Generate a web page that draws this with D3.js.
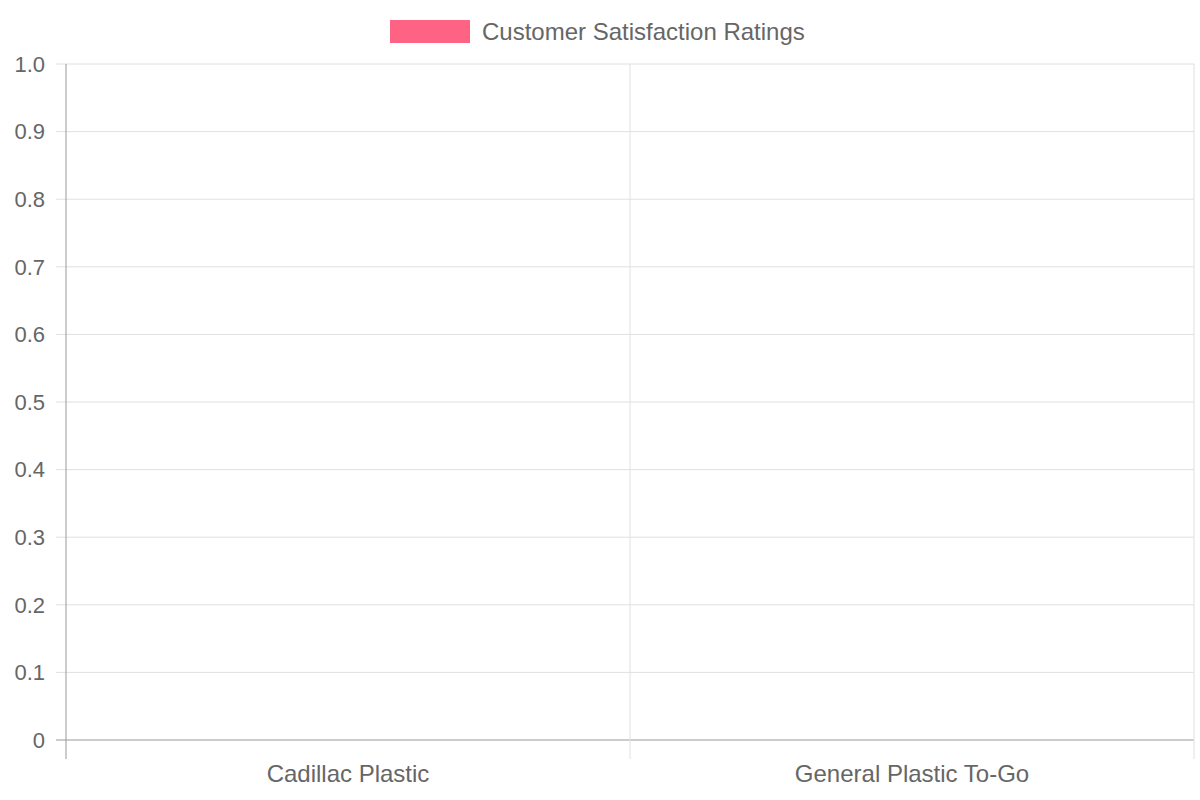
<!DOCTYPE html>
<html>
<head>
<meta charset="utf-8" />
<script src="https://d3js.org/d3.v7.min.js"></script>
<style>
  body { margin: 0; background: #fff; }
  text { font-family: "Liberation Sans", Arial, sans-serif; fill: #666; }
</style>
</head>
<body>
<svg id="chart" width="1200" height="800"></svg>
<script>
// data
var categories = ["Cadillac Plastic", "General Plastic To-Go"];
var ratings = [0, 0];
var seriesName = "Customer Satisfaction Ratings";
var yTicks = [0, 0.1, 0.2, 0.3, 0.4, 0.5, 0.6, 0.7, 0.8, 0.9, 1.0];

var svg = d3.select("#chart");
var plotLeft = 66, plotRight = 1194, plotTop = 64, plotBottom = 740;

var x = d3.scaleBand().domain(categories).range([plotLeft, plotRight]);
var y = d3.scaleLinear().domain([0, 1]).range([plotBottom, plotTop]);

// horizontal grid
svg.selectAll(".hgrid").data(yTicks).enter().append("line")
  .attr("x1", plotLeft - 10).attr("x2", plotRight)
  .attr("y1", d => y(d)).attr("y2", d => y(d))
  .attr("stroke", d => d === 0 ? "#999" : "#e0e0e0").attr("stroke-width", 1);

// vertical grid (category boundaries)
var bounds = categories.map(c => x(c)).concat([plotRight]);
svg.selectAll(".vgrid").data(bounds).enter().append("line")
  .attr("x1", d => d).attr("x2", d => d)
  .attr("y1", plotTop).attr("y2", plotBottom + 19)
  .attr("stroke", (d, i) => i === 0 ? "#999" : "#e0e0e0").attr("stroke-width", 1);

// y labels
svg.selectAll(".ylab").data(yTicks).enter().append("text")
  .attr("x", 45).attr("y", d => y(d)).attr("dy", "0.35em")
  .attr("text-anchor", "end").attr("font-size", 22)
  .text(d => d === 0 ? "0" : d.toFixed(1));

// x labels
svg.selectAll(".xlab").data(categories).enter().append("text")
  .attr("x", d => x(d) + x.bandwidth() / 2).attr("y", 774).attr("dy", "0.35em")
  .attr("text-anchor", "middle").attr("font-size", 24)
  .text(d => d);

// bars (zero values)
svg.selectAll(".bar").data(ratings).enter().append("rect")
  .attr("x", (d, i) => x(categories[i]) + x.bandwidth() * 0.1)
  .attr("width", x.bandwidth() * 0.8)
  .attr("y", d => y(d)).attr("height", d => y(0) - y(d))
  .attr("fill", "rgba(255,99,132,0.5)");

// legend
svg.append("rect").attr("x", 390).attr("y", 20).attr("width", 80).attr("height", 23)
  .attr("fill", "#ff6384");
svg.append("text").attr("x", 482).attr("y", 32).attr("dy", "0.35em")
  .attr("font-size", 24).text(seriesName);
</script>
</body>
</html>
